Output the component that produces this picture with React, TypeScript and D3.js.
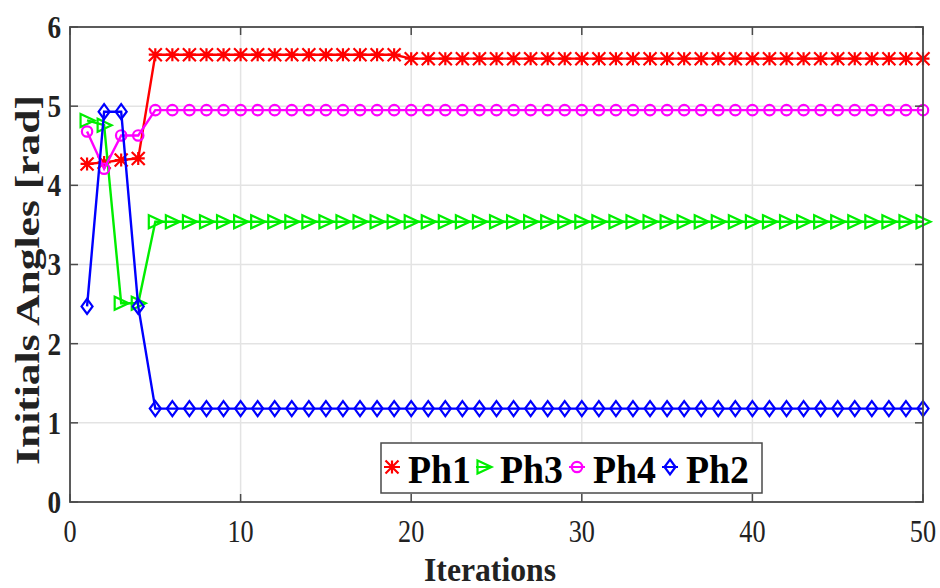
import React from "react";
import * as d3 from "d3";

const iterations = d3.range(1, 51);
const ph1: number[] = [4.27, 4.29, 4.32, 4.34,
  5.65, 5.65, 5.65, 5.65, 5.65, 5.65, 5.65, 5.65, 5.65, 5.65, 5.65, 5.65, 5.65, 5.65, 5.65,
  5.6, 5.6, 5.6, 5.6, 5.6, 5.6, 5.6, 5.6, 5.6, 5.6, 5.6, 5.6, 5.6, 5.6, 5.6, 5.6, 5.6, 5.6, 5.6, 5.6, 5.6,
  5.6, 5.6, 5.6, 5.6, 5.6, 5.6, 5.6, 5.6, 5.6, 5.6, 5.6];
const ph3: number[] = [4.82, 4.76, 2.51, 2.51, ...Array(46).fill(3.54)];
const ph4: number[] = [4.68, 4.21, 4.63, 4.63, ...Array(46).fill(4.95)];
const ph2: number[] = [2.47, 4.93, 4.93, 2.47, ...Array(46).fill(1.18)];

const seriesNames = ["Ph1", "Ph3", "Ph4", "Ph2"];
const seriesColors = ["#ff0000", "#00ee00", "#ff00ff", "#0000ff"];
const seriesMarkers = ["asterisk", "triangle", "circle", "diamond"];
const seriesValues = [ph1.slice(0, 50), ph3, ph4, ph2];

const xTicks = [0, 10, 20, 30, 40, 50];
const yTicks = [0, 1, 2, 3, 4, 5, 6];

const W = 940, H = 588;
const L = 70, R = 923, T = 27, B = 502;

function Marker({ type, x, y, color }: { type: string; x: number; y: number; color: string }) {
  const s = 6.5;
  const common = { fill: "none", stroke: color, strokeWidth: 2.2 };
  if (type === "asterisk") {
    return (
      <path
        d={`M${x - s},${y - s}L${x + s},${y + s}M${x - s},${y + s}L${x + s},${y - s}M${x},${y - s}L${x},${y + s}M${x - s},${y}L${x + s},${y}`}
        {...common}
      />
    );
  }
  if (type === "triangle") {
    return <path d={`M${x + s + 1},${y}L${x - s},${y - s}L${x - s},${y + s}Z`} {...common} />;
  }
  if (type === "circle") {
    return <circle cx={x} cy={y} r={5.2} {...common} />;
  }
  return <path d={`M${x},${y - s - 1}L${x + s - 1},${y}L${x},${y + s + 1}L${x - s + 1},${y}Z`} {...common} />;
}

export default function App() {
  const x = d3.scaleLinear().domain([0, 50]).range([L, R]);
  const y = d3.scaleLinear().domain([0, 6]).range([B, T]);
  const line = d3.line<number>().x((_, i) => x(iterations[i])).y((d) => y(d));
  const font = "'Liberation Serif', 'Times New Roman', serif";

  const legendX0 = 381, legendY0 = 443, legendW = 381, legendH = 50;
  const legendItems = [392, 484, 577, 670];

  return (
    <svg width={W} height={H} style={{ position: "absolute", left: 0, top: 0, background: "#fff" }}>
      <rect x={0} y={0} width={W} height={H} fill="#fff" />
      {/* grid */}
      {xTicks.slice(1, -1).map((t) => (
        <line key={"gx" + t} x1={x(t)} x2={x(t)} y1={T} y2={B} stroke="#e3e3e3" strokeWidth={1.5} />
      ))}
      {yTicks.slice(1, -1).map((t) => (
        <line key={"gy" + t} x1={L} x2={R} y1={y(t)} y2={y(t)} stroke="#e3e3e3" strokeWidth={1.5} />
      ))}
      {/* series */}
      {seriesValues.map((vals, si) => (
        <g key={seriesNames[si]}>
          <path d={line(vals) || ""} fill="none" stroke={seriesColors[si]} strokeWidth={2.4} />
          {vals.map((v, i) => (
            <Marker key={i} type={seriesMarkers[si]} x={x(iterations[i])} y={y(v)} color={seriesColors[si]} />
          ))}
        </g>
      ))}
      {/* axes box */}
      <rect x={L} y={T} width={R - L} height={B - T} fill="none" stroke="#4a4a4a" strokeWidth={1.8} />
      {xTicks.map((t) => (
        <g key={"tx" + t}>
          <line x1={x(t)} x2={x(t)} y1={B} y2={B - 8} stroke="#4a4a4a" strokeWidth={1.5} />
          <line x1={x(t)} x2={x(t)} y1={T} y2={T + 8} stroke="#4a4a4a" strokeWidth={1.5} />
          <text x={x(t)} y={542} textAnchor="middle" fontFamily={font} fontSize={32} fill="#222"
            transform={`translate(${x(t)},0) scale(0.82,1) translate(${-x(t)},0)`}>
            {t}
          </text>
        </g>
      ))}
      {yTicks.map((t) => (
        <g key={"ty" + t}>
          <line x1={L} x2={L + 8} y1={y(t)} y2={y(t)} stroke="#4a4a4a" strokeWidth={1.5} />
          <line x1={R} x2={R - 8} y1={y(t)} y2={y(t)} stroke="#4a4a4a" strokeWidth={1.5} />
          <text x={61} y={y(t) + 11} textAnchor="end" fontFamily={font} fontSize={32} fontWeight="bold" fill="#222"
            transform={`translate(61,0) scale(0.85,1) translate(-61,0)`}>
            {t}
          </text>
        </g>
      ))}
      {/* axis labels */}
      <text x={490} y={581} textAnchor="middle" fontFamily={font} fontSize={33} fontWeight="bold" fill="#222"
        textLength={132} lengthAdjust="spacingAndGlyphs">
        Iterations
      </text>
      <text transform="translate(39,280) rotate(-90)" textAnchor="middle" fontFamily={font} fontSize={33}
        fontWeight="bold" fill="#222" textLength={370} lengthAdjust="spacingAndGlyphs">
        Initials Angles [rad]
      </text>
      {/* legend */}
      <rect x={legendX0} y={legendY0} width={legendW} height={legendH} fill="#fff" stroke="#4a4a4a" strokeWidth={1.5} />
      {seriesNames.map((name, i) => {
        const cx = legendItems[i];
        const cy = legendY0 + legendH / 2 - 1;
        return (
          <g key={"lg" + name}>
            <line x1={cx - 8} x2={cx + 8} y1={cy} y2={cy} stroke={seriesColors[i]} strokeWidth={2} />
            <Marker type={seriesMarkers[i]} x={cx} y={cy} color={seriesColors[i]} />
            <text x={cx + 16} y={legendY0 + 40} fontFamily={font} fontSize={40} fontWeight="bold" fill="#000"
              textLength={63} lengthAdjust="spacingAndGlyphs">
              {name}
            </text>
          </g>
        );
      })}
    </svg>
  );
}
